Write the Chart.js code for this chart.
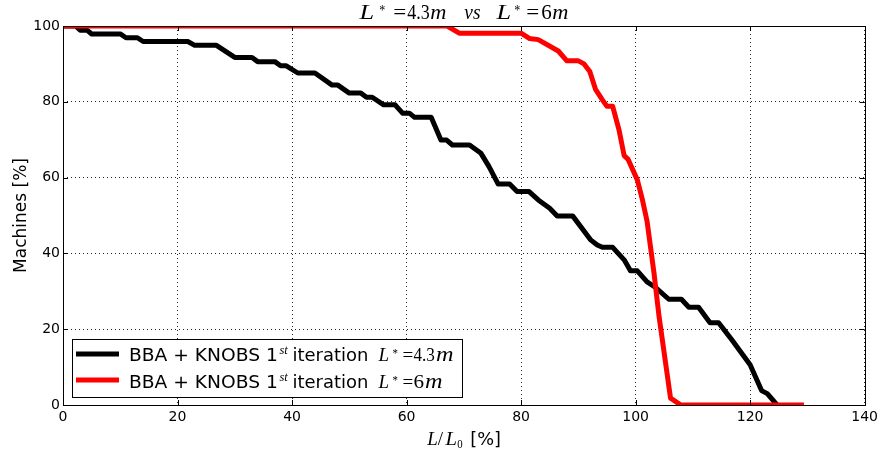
<!DOCTYPE html>
<html><head><meta charset="utf-8">
<script src="https://cdn.jsdelivr.net/npm/chart.js@4"></script>
<style>html,body{margin:0;padding:0;background:#fff;overflow:hidden}canvas{display:block}</style>
</head><body>
<canvas id="c" width="882" height="454"></canvas>
<script>
// ---- data ----
const xTickValues = [0, 20, 40, 60, 80, 100, 120, 140];
const yTickValues = [0, 20, 40, 60, 80, 100];
const seriesNames = ['BBA + KNOBS 1st iteration L* =4.3m', 'BBA + KNOBS 1st iteration L* =6m'];
const seriesLstar = ['4.3', '6'];
const blackX = [0, 2.2, 3, 4.2, 5, 10, 11, 13, 14, 21.8, 23, 26.8, 30, 33, 34, 37, 38, 39, 41, 44, 47, 48, 50, 52, 53, 54, 56, 58, 59.3, 60.5, 61.4, 64.3, 66, 67, 68, 71, 73, 74.4, 76, 78, 79.3, 81.4, 83, 85, 86.3, 89, 92.2, 93.3, 94.2, 96, 98, 99.1, 100.3, 102, 103.5, 105.8, 108, 109.3, 111, 113, 114.5, 116.8, 120, 122, 123, 124.7];
const blackY = [100, 100, 98.9, 98.9, 97.9, 97.9, 96.9, 96.9, 95.9, 95.9, 94.9, 94.9, 91.7, 91.7, 90.6, 90.6, 89.5, 89.5, 87.6, 87.6, 84.4, 84.4, 82.3, 82.3, 81.2, 81.2, 79.2, 79.2, 77, 77, 75.9, 75.9, 69.9, 69.9, 68.6, 68.6, 66.4, 62.9, 58.3, 58.3, 56.3, 56.3, 54.1, 51.9, 49.9, 49.9, 43.5, 42.2, 41.6, 41.6, 38.3, 35.4, 35.4, 32.5, 31, 27.9, 27.9, 25.8, 25.8, 21.7, 21.7, 17.2, 10.6, 3.8, 3, 0];
const redX = [0, 67.1, 69.2, 80, 81.5, 83, 86.5, 88, 90, 91, 92, 93, 94.2, 95, 96, 97.1, 98, 98.7, 100.3, 101.2, 102, 103.2, 104.1, 106.1, 107.9, 129.4];
const redY = [100, 100, 98.1, 98.1, 96.7, 96.4, 93.4, 90.8, 90.8, 90, 88, 83.3, 80.5, 78.8, 78.8, 72.6, 65.8, 64.8, 59.4, 54.1, 48.5, 35, 23.3, 1.8, 0, 0];

const SANS = '"DejaVu Sans"';
const SERIF = '"Liberation Serif"';

const toPts = (xs, ys) => xs.map((x, i) => ({ x: x, y: ys[i] }));

// rich text pieces: x = ink start offset from anchor, w = ink width
function legendPieces(val) {
  const p = [
    { t: 'BBA + KNOBS 1', f: '17px ' + SANS, x: 0, w: 147 },
    { t: 'st', f: 'italic 12px ' + SERIF, x: 149.5, w: 9, dy: -7 },
    { t: 'iteration', f: '17px ' + SANS, x: 163.5, w: 74 },
    { t: 'L', f: 'italic 19px ' + SERIF, x: 247.5, w: 11 },
    { t: '*', f: '13px ' + SERIF, x: 262.5, w: 5, dy: -4 },
    { t: '=', f: '19px ' + SERIF, x: 272.5, w: 10 }
  ];
  if (val.length > 1) {
    p.push({ t: val, f: '19px ' + SERIF, x: 283.5, w: 21 });
    p.push({ t: 'm', f: 'italic 20px ' + SERIF, x: 306, w: 17 });
  } else {
    p.push({ t: val, f: '19px ' + SERIF, x: 283.5, w: 10 });
    p.push({ t: 'm', f: 'italic 20px ' + SERIF, x: 295, w: 17 });
  }
  return p;
}
const titlePieces = [
  { t: 'L', f: 'italic 21px ' + SERIF, x: 0, w: 15 },
  { t: '*', f: '14px ' + SERIF, x: 21, w: 6, dy: -4.5 },
  { t: '=', f: '21px ' + SERIF, x: 36, w: 11 },
  { t: '4.3', f: '21px ' + SERIF, x: 49, w: 22 },
  { t: 'm', f: 'italic 21px ' + SERIF, x: 72, w: 16 },
  { t: 'vs', f: 'italic 21px ' + SERIF, x: 106, w: 16 },
  { t: 'L', f: 'italic 21px ' + SERIF, x: 137, w: 15 },
  { t: '*', f: '14px ' + SERIF, x: 156, w: 6, dy: -4.5 },
  { t: '=', f: '21px ' + SERIF, x: 169, w: 11 },
  { t: '6', f: '21px ' + SERIF, x: 183, w: 10 },
  { t: 'm', f: 'italic 21px ' + SERIF, x: 194, w: 16 }
];
const xTitlePieces = [
  { t: 'L', f: 'italic 19px ' + SERIF, x: 0, w: 11 },
  { t: '/', f: '19px ' + SERIF, x: 11.5, w: 6 },
  { t: 'L', f: 'italic 19px ' + SERIF, x: 18, w: 12 },
  { t: '0', f: '13px ' + SERIF, x: 31, w: 5, dy: 3 },
  { t: '[%]', f: '17px ' + SANS, x: 45, w: 29 }
];

function drawRich(ctx, pieces, x, y) {
  ctx.textBaseline = 'alphabetic';
  ctx.textAlign = 'left';
  for (const p of pieces) {
    ctx.font = p.f;
    const m = ctx.measureText(p.t);
    const inkL = m.actualBoundingBoxLeft || 0;
    const inkW = (m.actualBoundingBoxLeft || 0) + (m.actualBoundingBoxRight || m.width);
    const s = (p.w && inkW > 0) ? p.w / inkW : 1;
    ctx.save();
    ctx.translate(x + p.x + inkL * s, y + (p.dy || 0));
    ctx.scale(s, 1);
    ctx.fillText(p.t, 0, 0);
    ctx.restore();
  }
}

const decor = {
  id: 'decor',
  afterDatasetsDraw(chart) {
    const ctx = chart.ctx, a = chart.chartArea;
    const xs = chart.scales.x, ys = chart.scales.y;
    ctx.save();
    ctx.strokeStyle = '#000';
    ctx.lineWidth = 1;
    ctx.setLineDash([]);
    ctx.strokeRect(Math.round(a.left) + 0.5, Math.round(a.top) + 0.5, Math.round(a.right - a.left), Math.round(a.bottom - a.top));
    const L = 5;
    ctx.beginPath();
    for (const v of xTickValues) {
      const px = Math.round(xs.getPixelForValue(v)) + 0.5;
      ctx.moveTo(px, a.bottom); ctx.lineTo(px, a.bottom - L);
      ctx.moveTo(px, a.top); ctx.lineTo(px, a.top + L);
    }
    for (const v of yTickValues) {
      const py = Math.round(ys.getPixelForValue(v)) + 0.5;
      ctx.moveTo(a.left, py); ctx.lineTo(a.left + L, py);
      ctx.moveTo(a.right, py); ctx.lineTo(a.right - L, py);
    }
    ctx.stroke();
    ctx.restore();
  },
  afterDraw(chart) {
    const ctx = chart.ctx, a = chart.chartArea;
    ctx.save();
    ctx.fillStyle = '#000';
    const cx = (a.left + a.right) / 2;
    drawRich(ctx, titlePieces, cx - 105.5, 19);
    drawRich(ctx, xTitlePieces, cx - 37.5, 445);
    // y title
    ctx.save();
    ctx.translate(26, (a.top + a.bottom) / 2);
    ctx.rotate(-Math.PI / 2);
    ctx.font = '17px ' + SANS;
    ctx.textAlign = 'center';
    ctx.textBaseline = 'alphabetic';
    ctx.fillText('Machines [%]', 0, 0);
    ctx.restore();
    // legend (lower left)
    const colors = chart.data.datasets.map(d => d.borderColor);
    const bx = Math.round(a.left + 9) + 0.5;
    const by = Math.round(a.bottom - 66) + 0.5, bh = 58, bw = 390;
    ctx.fillStyle = '#fff';
    ctx.fillRect(bx, by, bw, bh);
    ctx.strokeStyle = '#000';
    ctx.lineWidth = 1;
    ctx.strokeRect(bx, by, bw, bh);
    const lineY = [by + 14.5, by + 40.5];
    const baseY = [by + 21.5, by + 48];
    seriesLstar.forEach((val, i) => {
      ctx.strokeStyle = colors[i];
      ctx.lineWidth = 5;
      ctx.lineCap = 'butt';
      ctx.beginPath();
      ctx.moveTo(bx + 3.5, lineY[i]);
      ctx.lineTo(bx + 46.5, lineY[i]);
      ctx.stroke();
      ctx.fillStyle = '#000';
      drawRich(ctx, legendPieces(val), bx + 57.5, baseY[i]);
    });
    ctx.restore();
  }
};

new Chart(document.getElementById('c'), {
  type: 'line',
  data: {
    datasets: [
      { label: seriesNames[0], data: toPts(blackX, blackY), borderColor: '#000000', borderWidth: 5, order: 1 },
      { label: seriesNames[1], data: toPts(redX, redY), borderColor: '#ff0000', borderWidth: 5, order: 0 }
    ]
  },
  options: {
    responsive: false,
    devicePixelRatio: 1,
    animation: false,
    events: [],
    layout: { padding: { left: 0, top: 26, right: 16, bottom: 0 } },
    elements: {
      point: { radius: 0, hoverRadius: 0 },
      line: { tension: 0, borderJoinStyle: 'round', borderCapStyle: 'butt', fill: false }
    },
    datasets: { line: { clip: 0 } },
    plugins: { legend: { display: false }, title: { display: false }, tooltip: { enabled: false } },
    scales: {
      x: {
        type: 'linear', min: 0, max: 140,
        afterBuildTicks: s => { s.ticks = xTickValues.map(v => ({ value: v })); },
        afterFit: s => { s.height = 49; },
        grid: { color: 'rgba(0,0,0,0.85)', lineWidth: 1, drawTicks: false },
        border: { display: false, dash: [1, 3] },
        ticks: { color: '#000', font: { family: 'DejaVu Sans', size: 14 }, padding: 4, maxRotation: 0 }
      },
      y: {
        type: 'linear', min: 0, max: 100,
        afterBuildTicks: s => { s.ticks = yTickValues.map(v => ({ value: v })); },
        afterFit: s => { s.width = 63; },
        grid: { color: 'rgba(0,0,0,0.85)', lineWidth: 1, drawTicks: false },
        border: { display: false, dash: [1, 3] },
        ticks: { color: '#000', font: { family: 'DejaVu Sans', size: 14 }, padding: 3 }
      }
    }
  },
  plugins: [decor]
});
</script>
</body></html>
